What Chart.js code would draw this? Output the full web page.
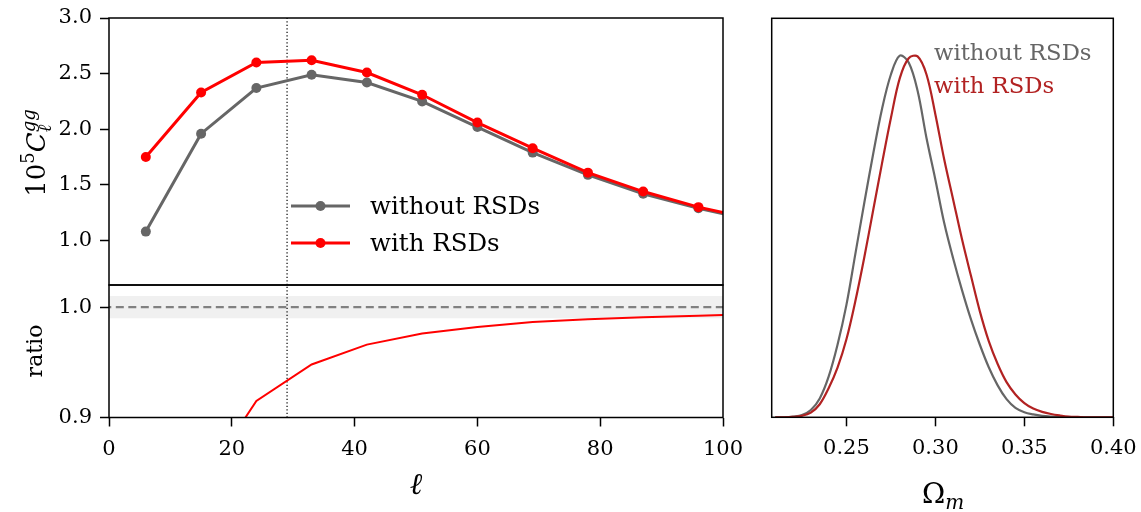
<!DOCTYPE html>
<html><head><meta charset="utf-8">
<script src="https://cdn.jsdelivr.net/npm/chart.js@4.4.0/dist/chart.umd.min.js"></script>
<style>
html,body{margin:0;padding:0;background:#fff;}
#wrap{position:relative;width:1141px;height:512px;overflow:hidden;background:#fff;}
canvas{position:absolute;}
</style></head><body>
<div id="wrap">
<canvas id="cTop" width="760" height="300" style="left:0;top:0;width:760px;height:300px"></canvas>
<canvas id="cRatio" width="760" height="232" style="left:0;top:280px;width:760px;height:232px"></canvas>
<canvas id="cPost" width="401" height="512" style="left:740px;top:0;width:401px;height:512px"></canvas>
</div>
<script>
// ---------- data ----------
const ell      = [6, 15, 24, 33, 42, 51, 60, 69, 78, 87, 96, 105];
const clNoRSD  = [1.08, 1.96, 2.37, 2.49, 2.42, 2.25, 2.02, 1.79, 1.59, 1.42, 1.29, 1.18];
const clRSD    = [1.75, 2.33, 2.60, 2.62, 2.51, 2.31, 2.06, 1.83, 1.61, 1.44, 1.30, 1.19];
const ratio    = [0.618, 0.839, 0.915, 0.948, 0.966, 0.976, 0.982, 0.9865, 0.989, 0.9907, 0.9922, 0.9935];
const ellCut   = 29;
const ratioRef = 1.0;
const ratioBand = [0.99, 1.01];

const clTicks    = [1.0, 1.5, 2.0, 2.5, 3.0];
const ratioTicks = [0.9, 1.0];
const ellTicks   = [0, 20, 40, 60, 80, 100];
const omegaTicks = [0.25, 0.30, 0.35, 0.40];
const clRange    = [0.6, 3.0];
const ratioRange = [0.9, 1.02];
const ellRange   = [0, 100];
const omegaRange = [0.208, 0.40];
const postRange  = [0, 1.1];

const omegaGrid = [0.210,0.215,0.220,0.225,0.230,0.235,0.240,0.245,0.250,0.255,0.260,0.265,0.270,0.275,0.280,0.285,0.290,0.295,0.300,0.305,0.310,0.315,0.320,0.325,0.330,0.335,0.340,0.345,0.350,0.355,0.360,0.365,0.370,0.375,0.380,0.385,0.390,0.395,0.400];
const postNoRSD = [0.000,0.000,0.002,0.006,0.020,0.052,0.112,0.200,0.310,0.450,0.590,0.725,0.850,0.945,0.997,0.978,0.900,0.770,0.655,0.535,0.438,0.350,0.270,0.200,0.138,0.088,0.050,0.026,0.014,0.008,0.004,0.002,0.001,0.000,0.000,0.000,0.000,0.000,0.000];
const postRSD   = [0.000,0.000,0.001,0.004,0.013,0.036,0.080,0.137,0.215,0.320,0.440,0.570,0.700,0.825,0.935,0.990,0.995,0.945,0.835,0.710,0.600,0.490,0.390,0.292,0.210,0.147,0.097,0.063,0.039,0.024,0.015,0.009,0.005,0.002,0.001,0.000,0.000,0.000,0.000];

const labelNo  = 'without RSDs';
const labelYes = 'with RSDs';

// ---------- style ----------
const SERIF = 'DejaVu Serif';
const GRAY = '#666666', RED = '#ff0000', DARKRED = '#b22222';
const pts = (xs, ys) => xs.map((x, i) => ({x, y: ys[i]}));
const vline = (x, r) => [{x, y: r[0]}, {x, y: r[1]}];
const hline = (y, r) => [{x: r[0] - 5, y}, {x: r[1] + 5, y}];

const framePlugin = {
  id: 'frame',
  afterDatasetsDraw(chart) {
    const {ctx, chartArea: a} = chart;
    ctx.save(); ctx.strokeStyle = '#000'; ctx.lineWidth = 1.5;
    ctx.strokeRect(a.left, a.top, a.right - a.left, a.bottom - a.top);
    ctx.restore();
  }
};

const richTextPlugin = {
  id: 'richText',
  afterDraw(chart, args, opts) {
    const ctx = chart.ctx;
    (opts.items || []).forEach(it => {
      ctx.save();
      ctx.translate(it.x, it.y);
      ctx.rotate(it.rot || 0);
      ctx.textBaseline = 'alphabetic';
      ctx.textAlign = 'left';
      let prevStart = 0, cx = 0;
      const lay = [];
      it.parts.forEach(p => {
        ctx.font = p.font; const w = ctx.measureText(p.text).width;
        const sx = p.sameX ? prevStart : cx;
        lay.push({p, sx});
        cx = Math.max(cx, sx + w); prevStart = sx;
      });
      const off = it.align === 'center' ? -cx / 2 : 0;
      lay.forEach(({p, sx}) => {
        ctx.font = p.font; ctx.fillStyle = p.color || it.color || '#000';
        ctx.fillText(p.text, off + sx, p.dy || 0);
      });
      ctx.restore();
    });
  }
};

const legendPlugin = {
  id: 'lineLegend',
  afterDraw(chart, args, opts) {
    const ctx = chart.ctx;
    const items = chart.data.datasets.filter(d => d.inLegend);
    items.forEach((d, i) => {
      const y = opts.y + i * opts.dy;
      ctx.save();
      ctx.strokeStyle = d.borderColor; ctx.lineWidth = d.borderWidth;
      ctx.beginPath(); ctx.moveTo(opts.x, y); ctx.lineTo(opts.x + opts.len, y); ctx.stroke();
      ctx.fillStyle = d.borderColor;
      ctx.beginPath(); ctx.arc(opts.x + opts.len / 2, y, d.pointRadius, 0, Math.PI * 2); ctx.fill();
      ctx.font = opts.font; ctx.fillStyle = '#000'; ctx.textBaseline = 'alphabetic';
      ctx.fillText(d.label, opts.x + opts.len + opts.gap, y + opts.base);
      ctx.restore();
    });
  }
};

const tickFont = {family: SERIF, size: 21};
function yAxis(range, ticks, width, fmt) {
  return {
    type: 'linear', position: 'left', min: range[0], max: range[1],
    afterBuildTicks: s => { s.ticks = ticks.map(v => ({value: v})); },
    afterFit: s => { s.width = width; s.paddingTop = 0; s.paddingBottom = 0; },
    grid: {drawOnChartArea: false, drawTicks: true, tickLength: 9, tickWidth: 1.5, tickColor: '#000'},
    border: {display: false},
    ticks: {color: '#000', font: tickFont, padding: 8, callback: v => v.toFixed(fmt)}
  };
}
function xAxis(range, ticks, height, fmt) {
  return {
    type: 'linear', position: 'bottom', min: range[0], max: range[1],
    afterBuildTicks: s => { s.ticks = ticks.map(v => ({value: v})); },
    afterFit: s => { s.height = height; s.paddingLeft = 0; s.paddingRight = 0; },
    grid: {drawOnChartArea: false, drawTicks: true, tickLength: 9, tickWidth: 1.5, tickColor: '#000'},
    border: {display: false},
    ticks: {color: '#000', font: tickFont, padding: 10, maxRotation: 0, autoSkip: false, callback: v => v.toFixed(fmt)}
  };
}
const common = {
  responsive: false, animation: false, events: [],
  plugins: {legend: {display: false}, tooltip: {enabled: false}}
};

// ---------- top: C_ell ----------
new Chart(document.getElementById('cTop'), {
  type: 'line',
  data: {datasets: [
    {label: 'cut', data: vline(ellCut, clRange), borderColor: '#000', borderWidth: 1.2, borderDash: [1.3, 2.2], pointRadius: 0, order: 10},
    {label: labelNo, inLegend: true, data: pts(ell, clNoRSD), borderColor: GRAY, backgroundColor: GRAY, borderWidth: 3, pointRadius: 5, pointBorderWidth: 0, pointBackgroundColor: GRAY, order: 5},
    {label: labelYes, inLegend: true, data: pts(ell, clRSD), borderColor: RED, backgroundColor: RED, borderWidth: 3, pointRadius: 5, pointBorderWidth: 0, pointBackgroundColor: RED, order: 1}
  ]},
  options: {...common,
    layout: {padding: {left: 0, top: 18, right: 37, bottom: 15}, autoPadding: false},
    scales: {
      x: {type: 'linear', display: false, min: ellRange[0], max: ellRange[1]},
      y: yAxis(clRange, clTicks, 109, 1)
    },
    plugins: {...common.plugins,
      lineLegend: {x: 291, y: 206, dy: 37, len: 59, gap: 20, base: 8, font: `24.5px "${SERIF}"`},
      richText: {items: [{x: 45, y: 153, rot: -Math.PI / 2, align: 'center', parts: [
        {text: '10', font: `26px "${SERIF}"`},
        {text: '5', font: `18px "${SERIF}"`, dy: -11},
        {text: 'C', font: `italic 26px "${SERIF}"`},
        {text: 'gg', font: `italic 18px "${SERIF}"`, dy: -10},
        {text: 'ℓ', font: `italic 18px "${SERIF}"`, dy: 6, sameX: true}
      ]}]}
    }
  },
  plugins: [framePlugin, legendPlugin, richTextPlugin]
});

// ---------- bottom: ratio ----------
new Chart(document.getElementById('cRatio'), {
  type: 'line',
  data: {datasets: [
    {label: 'bandLo', data: hline(ratioBand[0], ellRange), borderWidth: 0, pointRadius: 0, fill: false, order: 20},
    {label: 'bandHi', data: hline(ratioBand[1], ellRange), borderWidth: 0, pointRadius: 0, fill: '-1', backgroundColor: '#f0f0f0', order: 19},
    {label: 'ref', data: hline(ratioRef, ellRange), borderColor: '#808080', borderWidth: 2.2, borderDash: [8, 4.5], pointRadius: 0, order: 10},
    {label: 'cut', data: vline(ellCut, ratioRange), borderColor: '#000', borderWidth: 1.2, borderDash: [1.3, 2.2], pointRadius: 0, order: 8},
    {label: 'ratio', data: pts(ell, ratio), borderColor: RED, borderWidth: 2, pointRadius: 0, order: 1}
  ]},
  options: {...common,
    layout: {padding: {left: 0, top: 5, right: 37, bottom: 0}, autoPadding: false},
    scales: {
      x: xAxis(ellRange, ellTicks, 94.5, 0),
      y: yAxis(ratioRange, ratioTicks, 109, 1)
    },
    plugins: {...common.plugins,
      richText: {items: [
        {x: 42, y: 71, rot: -Math.PI / 2, align: 'center', parts: [{text: 'ratio', font: `22px "${SERIF}"`}]},
        {x: 416, y: 214, align: 'center', parts: [{text: 'ℓ', font: `italic 30px "${SERIF}"`}]}
      ]}
    }
  },
  plugins: [framePlugin, richTextPlugin]
});

// ---------- right: Omega_m posterior ----------
new Chart(document.getElementById('cPost'), {
  type: 'line',
  data: {datasets: [
    {label: labelNo, data: pts(omegaGrid, postNoRSD), borderColor: GRAY, borderWidth: 2.2, pointRadius: 0, tension: 0.35, order: 2},
    {label: labelYes, data: pts(omegaGrid, postRSD), borderColor: DARKRED, borderWidth: 2.2, pointRadius: 0, tension: 0.35, order: 1}
  ]},
  options: {...common,
    layout: {padding: {left: 31.7, top: 18.3, right: 27.7, bottom: 0}, autoPadding: false},
    scales: {
      x: xAxis(omegaRange, omegaTicks, 94.7, 2),
      y: {type: 'linear', display: false, min: postRange[0], max: postRange[1]}
    },
    plugins: {...common.plugins,
      richText: {items: [
        {x: 194, y: 60, parts: [{text: labelNo, font: `22.7px "${SERIF}"`, color: GRAY}]},
        {x: 194, y: 93, parts: [{text: labelYes, font: `22.7px "${SERIF}"`, color: DARKRED}]},
        {x: 203, y: 503, align: 'center', parts: [
          {text: 'Ω', font: `28px "${SERIF}"`},
          {text: 'm', font: `italic 20px "${SERIF}"`, dy: 6}
        ]}
      ]}
    }
  },
  plugins: [framePlugin, richTextPlugin]
});
</script>
</body></html>
